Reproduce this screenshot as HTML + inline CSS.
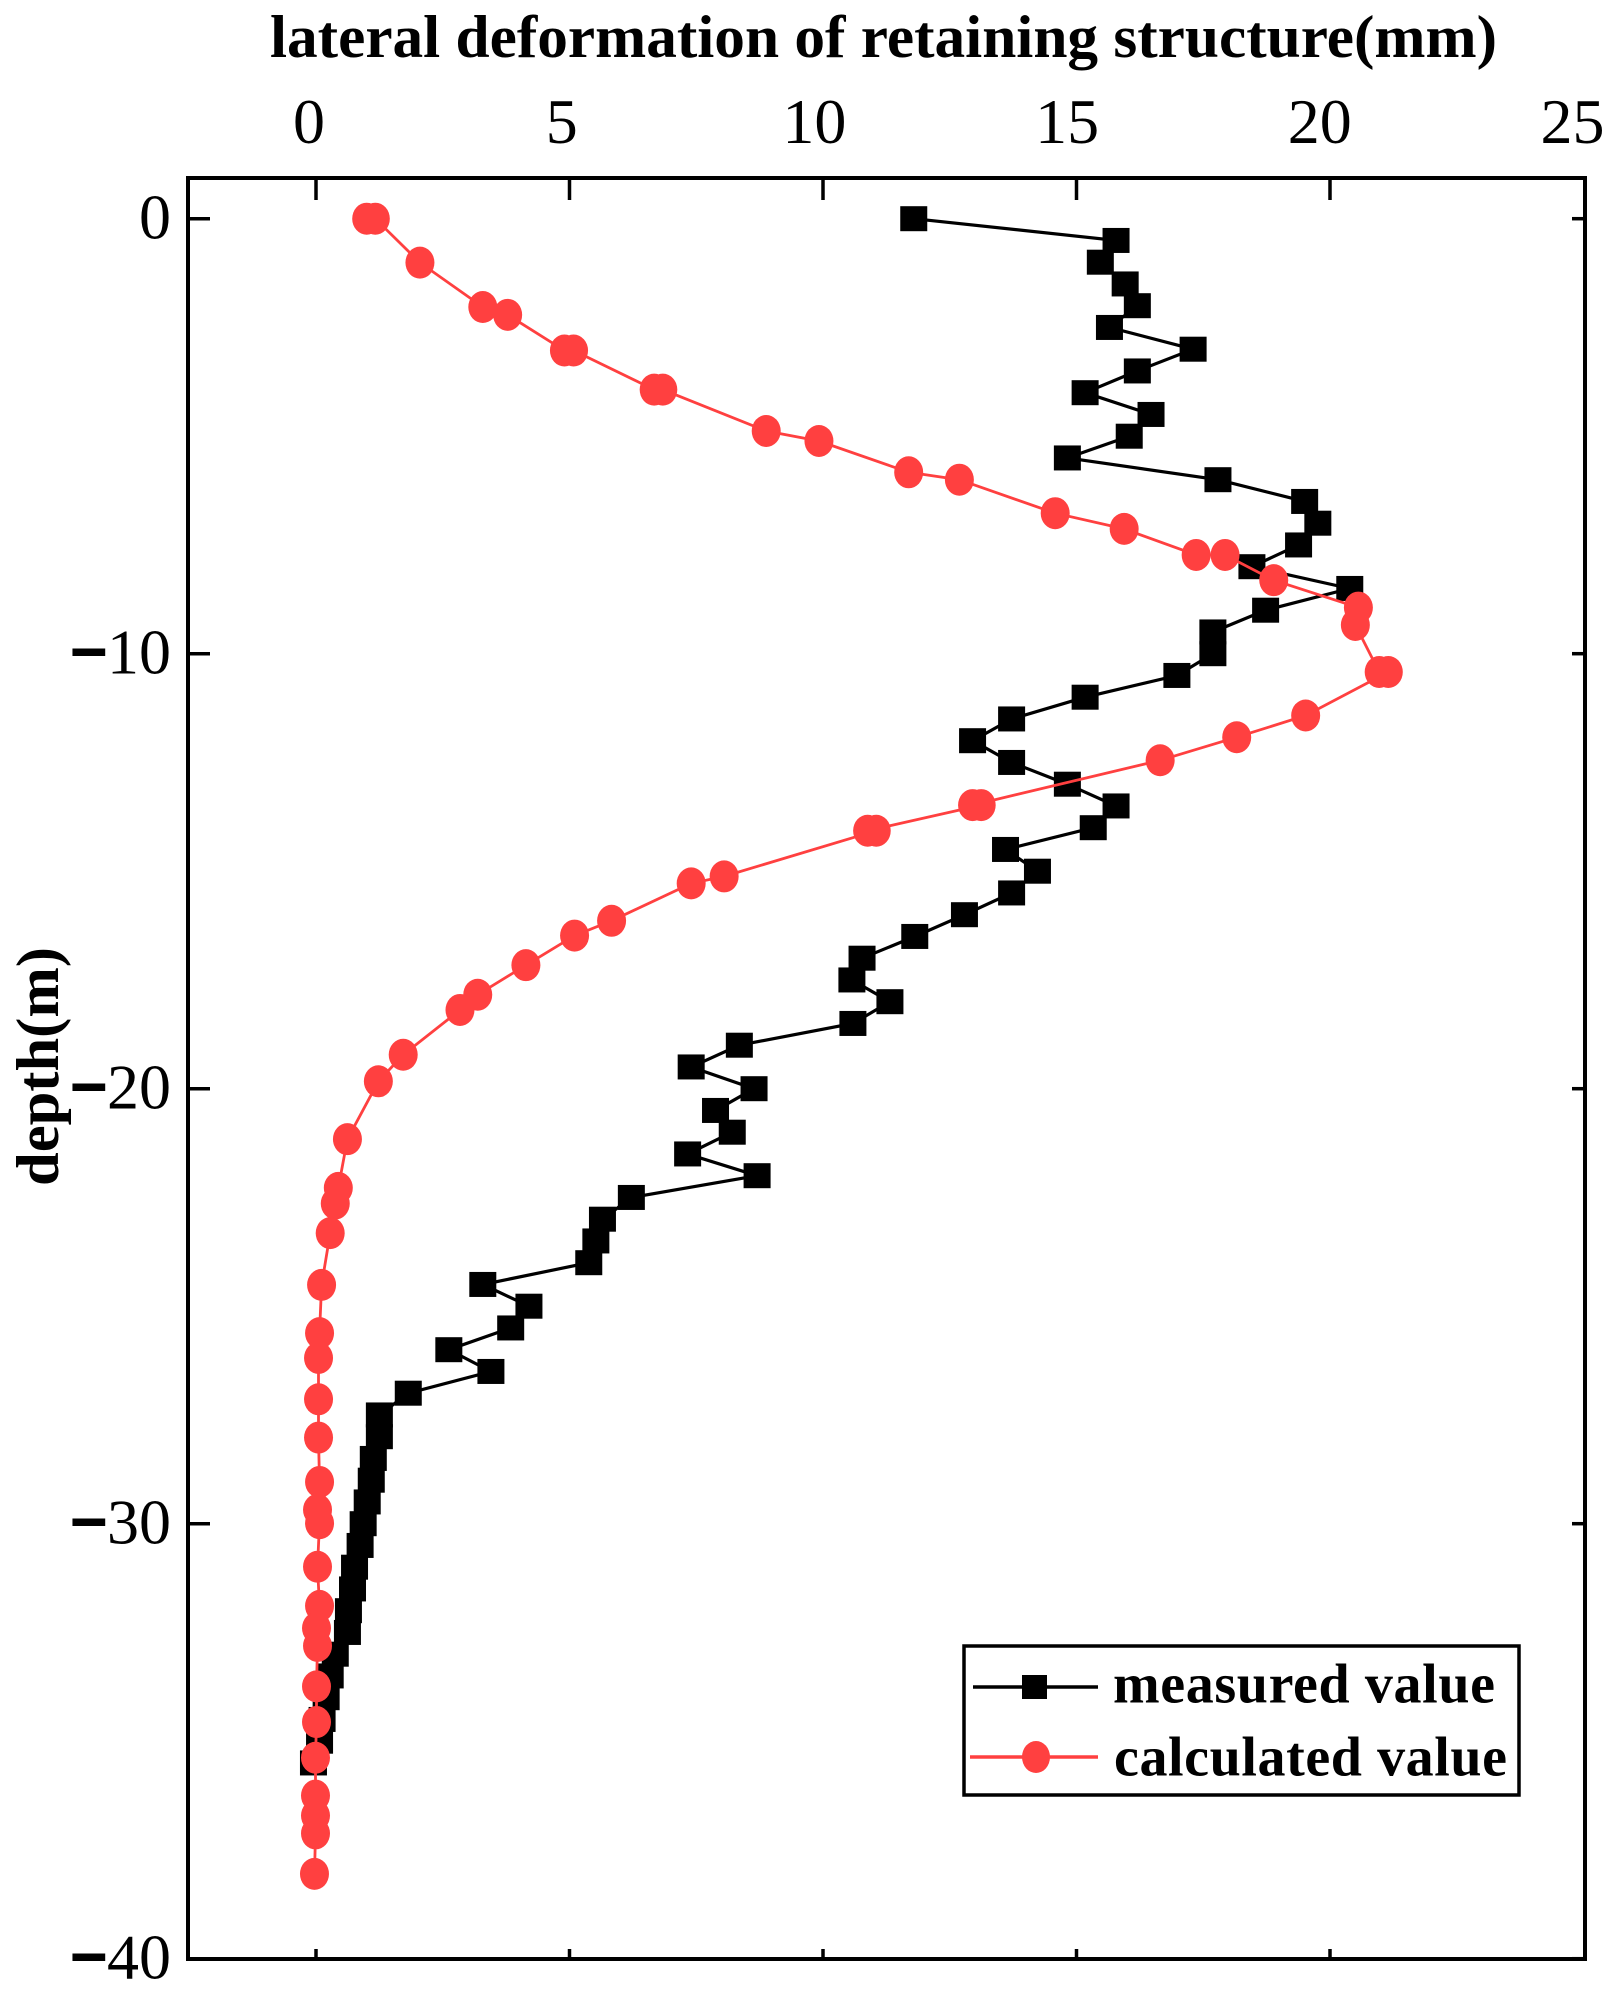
<!DOCTYPE html>
<html lang="en">
<head>
<meta charset="utf-8">
<title>Lateral deformation of retaining structure</title>
<style>
html,body{margin:0;padding:0;background:#fff;}
svg{display:block;}
text{font-family:"Liberation Serif","Times New Roman",serif;fill:#000;}
</style>
</head>
<body>
<svg id="chart" xmlns="http://www.w3.org/2000/svg" width="1617" height="1998" viewBox="0 0 1617 1998">
  <rect x="0" y="0" width="1617" height="1998" fill="#fff"/>
  <text x="270" y="57" font-size="60" font-weight="700" textLength="1227" lengthAdjust="spacingAndGlyphs">lateral deformation of retaining structure(mm)</text>
  <text transform="translate(58,1186) rotate(-90)" font-size="60" font-weight="700" textLength="239" lengthAdjust="spacingAndGlyphs">depth(m)</text>
  <g id="series-layer"></g>
  <rect x="188" y="178" width="1397" height="1781" fill="none" stroke="#000" stroke-width="4"/>
  <g id="tick-layer"></g>
  <g>
    <rect x="964" y="1646" width="555" height="149" fill="#fff" stroke="#000" stroke-width="3.5"/>
    <g>
      <line x1="973" y1="1687" x2="1098" y2="1687" stroke="#000" stroke-width="3.5"/>
      <rect x="1022" y="1675" width="25" height="24" fill="#000"/>
      <text x="1113" y="1702.5" font-size="56" font-weight="700" textLength="382" lengthAdjust="spacing">measured value</text>
    </g>
    <g>
      <line x1="970" y1="1757" x2="1098" y2="1757" stroke="#ff4040" stroke-width="3.5"/>
      <ellipse cx="1036" cy="1757" rx="14" ry="16" fill="#ff4040"/>
      <text x="1114" y="1775.5" font-size="56" font-weight="700" textLength="393" lengthAdjust="spacing">calculated value</text>
    </g>
  </g>
</svg>
<script>
const xTicks = [0, 5, 10, 15, 20];
const xTickLabels = ['0', '5', '10', '15', '20', '25'];
const xTickLabelValues = [0, 5, 10, 15, 20, 25];
const yTicks = [0, -10, -20, -30, -40];
const yTickLabels = ['0', '10', '20', '30', '40'];

const measuredDepth = [0, -0.5, -1, -1.5, -2, -2.5, -3, -3.5, -4, -4.5, -5, -5.5, -6, -6.5, -7, -7.5, -8, -8.5, -9, -9.5, -10, -10.5, -11, -11.5, -12, -12.5, -13, -13.5, -14, -14.5, -15, -15.5, -16, -16.5, -17, -17.5, -18, -18.5, -19, -19.5, -20, -20.5, -21, -21.5, -22, -22.5, -23, -23.5, -24, -24.5, -25, -25.5, -26, -26.5, -27, -27.5, -28, -28.5, -29, -29.5, -30, -30.5, -31, -31.5, -32, -32.5, -33, -33.5, -34, -34.5, -35, -35.5];
const measuredValue = [11.79, 15.78, 15.47, 15.96, 16.2, 15.65, 17.3, 16.2, 15.17, 16.47, 16.04, 14.82, 17.79, 19.5, 19.76, 19.38, 18.46, 20.39, 18.73, 17.69, 17.69, 16.98, 15.17, 13.72, 12.95, 13.72, 14.82, 15.78, 15.33, 13.6, 14.23, 13.72, 12.79, 11.81, 10.77, 10.57, 11.32, 10.59, 8.35, 7.4, 8.64, 7.88, 8.21, 7.33, 8.7, 6.22, 5.65, 5.52, 5.38, 3.29, 4.2, 3.84, 2.62, 3.45, 1.82, 1.25, 1.25, 1.13, 1.09, 1.01, 0.93, 0.87, 0.76, 0.72, 0.64, 0.62, 0.38, 0.28, 0.2, 0.12, 0.07, -0.05];

const calculatedDepth = [0, 0, -1.01, -2.03, -2.21, -3.03, -3.03, -3.93, -3.93, -4.88, -5.11, -5.83, -6, -6.77, -7.13, -7.73, -7.73, -8.31, -8.94, -9.34, -10.42, -10.42, -11.42, -11.92, -12.45, -13.48, -13.48, -14.07, -14.07, -15.12, -15.28, -16.14, -16.48, -17.16, -17.84, -18.19, -19.22, -19.83, -21.16, -22.28, -22.64, -23.32, -24.51, -25.62, -26.19, -27.14, -28.02, -29.04, -29.68, -29.99, -30.99, -31.89, -32.4, -32.81, -33.74, -34.56, -35.38, -36.25, -36.71, -37.12, -38.05];
const calculatedValue = [1.0, 1.17, 2.05, 3.29, 3.78, 4.9, 5.08, 6.67, 6.84, 8.88, 9.92, 11.69, 12.69, 14.58, 15.94, 17.36, 17.93, 18.89, 20.56, 20.5, 20.97, 21.15, 19.52, 18.16, 16.65, 12.95, 13.12, 10.88, 11.05, 8.05, 7.4, 5.83, 5.1, 4.14, 3.19, 2.84, 1.72, 1.23, 0.62, 0.44, 0.38, 0.28, 0.11, 0.07, 0.05, 0.05, 0.05, 0.07, 0.03, 0.07, 0.03, 0.07, 0.01, 0.03, 0.01, 0.01, -0.01, -0.01, -0.01, -0.01, -0.03];

const SVG_NS = 'http://www.w3.org/2000/svg';
const FRAME_TOP = 178;
const FRAME_BOTTOM = 1959;
const FRAME_LEFT = 188;
const FRAME_RIGHT = 1585;

function xScale(v) { return 316 + 50.7 * v; }
function yScale(d) { return 218.7 - 43.5 * d; }

function make(tag, parent) {
  const el = document.createElementNS(SVG_NS, tag);
  parent.appendChild(el);
  return el;
}
function setAll(el, attrs) {
  for (const k in attrs) el.setAttribute(k, attrs[k]);
}

const seriesLayer = document.getElementById('series-layer');
const tickLayer = document.getElementById('tick-layer');

xTicks.forEach(function (t) {
  const top = make('line', tickLayer);
  
  
  setAll(top, { x1: xScale(t), x2: xScale(t), y1: FRAME_TOP, y2: FRAME_TOP + 22, stroke: '#000', 'stroke-width': 3.5 });
  const bottom = make('line', tickLayer);
  
  
  setAll(bottom, { x1: xScale(t), x2: xScale(t), y1: FRAME_BOTTOM, y2: FRAME_BOTTOM - 10, stroke: '#000', 'stroke-width': 3.5 });
});

xTickLabelValues.forEach(function (t, i) {
  const label = make('text', tickLayer);
  
  
  setAll(label, { x: xScale(t) - 7 - t * 0.16, y: 143, 'font-size': 64, 'text-anchor': 'middle' });
  label.textContent = xTickLabels[i];
});

yTicks.forEach(function (t, i) {
  const left = make('line', tickLayer);
  
  
  setAll(left, { x1: FRAME_LEFT, x2: FRAME_LEFT + 22, y1: yScale(t), y2: yScale(t), stroke: '#000', 'stroke-width': 3.5 });
  const right = make('line', tickLayer);
  
  
  setAll(right, { x1: FRAME_RIGHT, x2: FRAME_RIGHT - 13, y1: yScale(t), y2: yScale(t), stroke: '#000', 'stroke-width': 3.5 });
  const label = make('text', tickLayer);
  
  
  setAll(label, { x: 171, y: yScale(t) + 20, 'font-size': 64, 'text-anchor': 'end' });
  if (t < 0) {
    const minus = make('tspan', label);
    minus.setAttribute('font-weight', '700');
    minus.setAttribute('stroke', '#000');
    minus.setAttribute('stroke-width', '3');
    minus.textContent = '\u2212';
  }
  const digits = make('tspan', label);
  digits.textContent = yTickLabels[i];
});

function pointsOf(values, depths) {
  return values.map(function (v, i) { return xScale(v).toFixed(1) + ',' + yScale(depths[i]).toFixed(1); }).join(' ');
}

const measuredLine = make('polyline', seriesLayer);


setAll(measuredLine, { points: pointsOf(measuredValue, measuredDepth), fill: 'none', stroke: '#000', 'stroke-width': 3.2 });

measuredValue.forEach(function (v, i) {
  const m = make('rect', seriesLayer);
  
  
  setAll(m, { x: xScale(v) - 13.5, y: yScale(measuredDepth[i]) - 12.5, width: 27, height: 25, fill: '#000' });
});

const calculatedLine = make('polyline', seriesLayer);


setAll(calculatedLine, { points: pointsOf(calculatedValue, calculatedDepth), fill: 'none', stroke: '#ff4040', 'stroke-width': 2.8 });

calculatedValue.forEach(function (v, i) {
  const c = make('ellipse', seriesLayer);
  
  
  setAll(c, { cx: xScale(v), cy: yScale(calculatedDepth[i]), rx: 14.5, ry: 16, fill: '#ff4040' });
});
</script>
</body>
</html>
